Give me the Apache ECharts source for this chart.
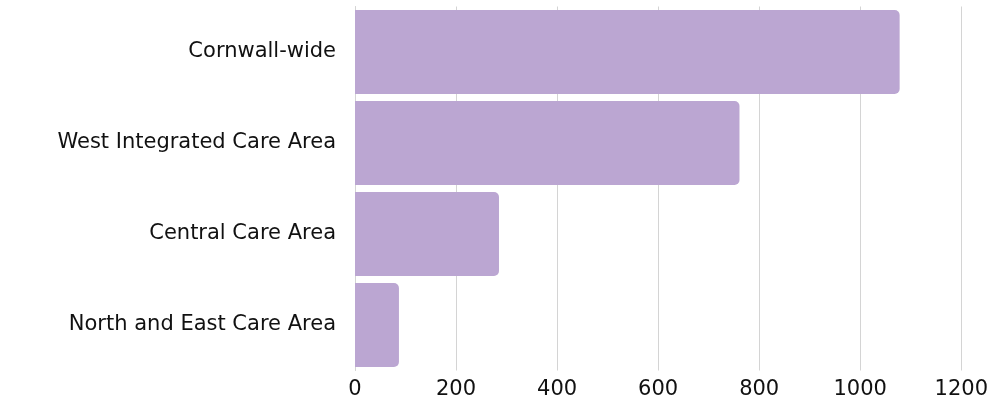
<!DOCTYPE html>
<html><head><meta charset="utf-8">
<script src="https://cdn.jsdelivr.net/npm/echarts@6/dist/echarts.min.js"></script>
<style>html,body{margin:0;padding:0;background:#fff}#c{width:991px;height:403px}</style>
</head><body><div id="c"></div>
<script>
const categories = ["Cornwall-wide", "West Integrated Care Area", "Central Care Area", "North and East Care Area"];
const values = [1078, 761, 285, 87];
const xTicks = [0, 200, 400, 600, 800, 1000, 1200];

const FONT = '"DejaVu Sans", sans-serif';
const chart = echarts.init(document.getElementById('c'), null, {renderer: 'canvas'});
chart.setOption({
  animation: false,
  grid: {left: 355, right: 28, top: 6.5, bottom: 32.5, containLabel: false},
  xAxis: {
    type: 'value', min: xTicks[0], max: xTicks[xTicks.length - 1], interval: 200,
    axisLine: {show: false}, axisTick: {show: false},
    splitLine: {show: true, lineStyle: {color: '#d4d4d4', width: 1}},
    axisLabel: {color: '#111', fontSize: 21, fontFamily: FONT, margin: 9,
      formatter: v => String(v)}
  },
  yAxis: {
    type: 'category', data: categories, inverse: true,
    axisLine: {show: true, lineStyle: {color: '#d4d4d4'}}, axisTick: {show: false},
    axisLabel: {color: '#111', fontSize: 21, fontFamily: FONT, margin: 19}
  },
  series: [{
    type: 'bar', data: values, barCategoryGap: '7.5%',
    itemStyle: {color: '#BBA6D2', borderRadius: [0, 5, 5, 0]}
  }]
});
</script></body></html>
